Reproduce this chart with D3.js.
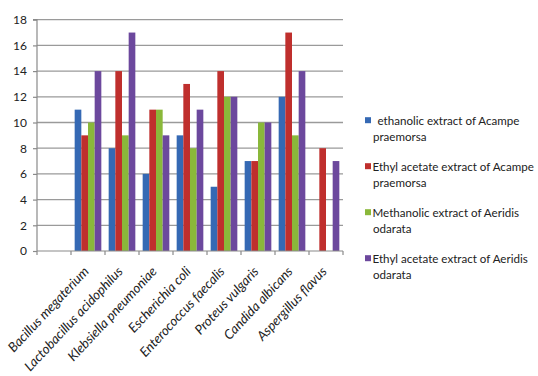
<!DOCTYPE html>
<html>
<head>
<meta charset="utf-8">
<script src="https://cdn.jsdelivr.net/npm/d3@7"></script>
<style>
  html, body { margin: 0; padding: 0; background: #fff; overflow: hidden; }
  svg { display: block; }
  text { font-family: Lato, "Open Sans", sans-serif; fill: #222; }
</style>
</head>
<body>
<svg id="chart" width="538" height="376"></svg>
<script>
// Organisms tested (first slot on the axis is left empty)
const categories = ["", "Bacillus megaterium", "Lactobacillus acidophilus", "Klebsiella pneumoniae",
  "Escherichia coli", "Enterococcus faecalis", "Proteus vulgaris", "Candida albicans", "Aspergillus flavus"];

const seriesNames = [
  ["ethanolic extract of Acampe", "praemorsa"],
  ["Ethyl acetate extract of Acampe", "praemorsa"],
  ["Methanolic extract of Aeridis", "odarata"],
  ["Ethyl acetate extract of Aeridis", "odarata"]
];

// Zone of inhibition values per organism, one array per extract
const ethanolicAcampe   = [null, 11, 8, 6, 9, 5, 7, 12, null];
const ethylAcetAcampe   = [null, 9, 14, 11, 13, 14, 7, 17, 8];
const methanolicAeridis = [null, 10, 9, 11, 8, 12, 10, 9, null];
const ethylAcetAeridis  = [null, 14, 17, 9, 11, 12, 10, 14, 7];

const seriesValues = [ethanolicAcampe, ethylAcetAcampe, methanolicAeridis, ethylAcetAeridis];
const colors = ["#3569b4", "#bf2f2d", "#8ab83a", "#6c489d"];
const yTicks = [0, 2, 4, 6, 8, 10, 12, 14, 16, 18];

const svg = d3.select("#chart");
const plotLeft = 37, plotRight = 343, plotTop = 19.7, plotBottom = 251;

// Pick a font size so that a sample string renders at the wanted width
function fitSize(sample, width, italic) {
  const probe = svg.append("text").attr("font-size", 20).attr("font-style", italic ? "italic" : "normal").text(sample);
  const w = probe.node().getComputedTextLength();
  probe.remove();
  return 20 * width / w;
}
const catFont = fitSize("Bacillus megaterium", 111, true);
const legendFont = fitSize("ethanolic extract of Acampe", 142, false);

const x = d3.scaleBand().domain(d3.range(categories.length)).range([plotLeft, plotRight]).paddingInner(0).paddingOuter(0);
const xs = d3.scaleBand().domain(d3.range(seriesValues.length)).range([0, x.bandwidth()]).paddingOuter(0.55).paddingInner(0);
const y = d3.scaleLinear().domain([0, 18]).range([plotBottom, plotTop]);

// Horizontal gridlines
svg.append("g").selectAll("line").data(yTicks.filter(d => d > 0)).join("line")
  .attr("x1", plotLeft).attr("x2", plotRight)
  .attr("y1", d => y(d)).attr("y2", d => y(d))
  .attr("stroke", "#9a9a9a").attr("stroke-width", 1.3);

// Y axis
const yAxis = svg.append("g").attr("transform", `translate(${plotLeft},0)`)
  .call(d3.axisLeft(y).tickValues(yTicks).tickSize(4).tickPadding(6));
yAxis.select(".domain").attr("stroke", "#8a8a8a").attr("stroke-width", 1.2).attr("d", `M-4,${plotTop}H0V${plotBottom}`);
yAxis.selectAll(".tick line").attr("stroke", "#8a8a8a").attr("stroke-width", 1.2);
yAxis.selectAll(".tick text").attr("font-size", 12).attr("fill", "#222")
  .style("font-family", "Lato, 'Open Sans', sans-serif");

// Bars
seriesValues.forEach((vals, si) => {
  svg.append("g").selectAll("rect")
    .data(vals.map((v, i) => ({ v, i })).filter(d => d.v != null))
    .join("rect")
    .attr("x", d => x(d.i) + xs(si))
    .attr("width", xs.bandwidth())
    .attr("y", d => y(d.v))
    .attr("height", d => y(0) - y(d.v))
    .attr("fill", colors[si]);
});

// X axis
const xAxis = svg.append("g").attr("transform", `translate(0,${plotBottom})`);
xAxis.append("line").attr("x1", plotLeft).attr("x2", plotRight).attr("y1", 0).attr("y2", 0)
  .attr("stroke", "#8a8a8a").attr("stroke-width", 1.2);
xAxis.selectAll("line.tick").data(d3.range(categories.length + 1)).join("line")
  .attr("class", "tick")
  .attr("x1", i => plotLeft + i * x.step()).attr("x2", i => plotLeft + i * x.step())
  .attr("y1", 0).attr("y2", 4)
  .attr("stroke", "#8a8a8a").attr("stroke-width", 1.2);

xAxis.selectAll("text").data(categories.map((c, i) => ({ c, i })).filter(d => d.c)).join("text")
  .attr("transform", d => `translate(${x(d.i) + x.bandwidth() / 2 + 1.5},${21}) rotate(-47)`)
  .attr("text-anchor", "end")
  .attr("font-size", catFont)
  .attr("font-style", "italic")
  .text(d => d.c);

// Legend
const legend = svg.append("g");
seriesNames.forEach((lines, i) => {
  const cy = 120.7 + i * 46;
  legend.append("rect").attr("x", 365).attr("y", cy - 3.5).attr("width", 6).attr("height", 6).attr("fill", colors[i]);
  const t = legend.append("text").attr("font-size", legendFont).attr("y", cy + 4.5);
  lines.forEach((ln, j) => {
    t.append("tspan").attr("x", j === 0 ? (i === 0 ? 377.5 : 372.5) : 373).attr("dy", j === 0 ? 0 : 16).text(ln);
  });
});
</script>
</body>
</html>
